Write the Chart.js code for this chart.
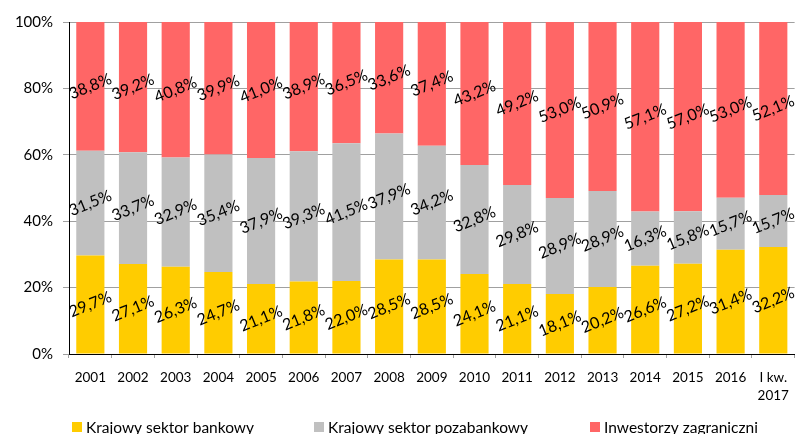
<!DOCTYPE html>
<html>
<head>
<meta charset="utf-8">
<script src="https://cdn.jsdelivr.net/npm/chart.js@4/dist/chart.umd.min.js"></script>
<style>
  html, body { margin: 0; padding: 0; background: #fff; }
  #wrap { width: 800px; height: 434px; position: relative; }
</style>
</head>
<body>
<div id="wrap"><canvas id="chart"></canvas></div>
<script>
// Dane
const years = ['2001', '2002', '2003', '2004', '2005', '2006', '2007', '2008', '2009',
  '2010', '2011', '2012', '2013', '2014', '2015', '2016', ['I kw.', '2017']];
const bankowy = [29.7, 27.1, 26.3, 24.7, 21.1, 21.8, 22.0, 28.5, 28.5,
  24.1, 21.1, 18.1, 20.2, 26.6, 27.2, 31.4, 32.2];
const pozabankowy = [31.5, 33.7, 32.9, 35.4, 37.9, 39.3, 41.5, 37.9, 34.2,
  32.8, 29.8, 28.9, 28.9, 16.3, 15.8, 15.7, 15.7];
const zagraniczni = [38.8, 39.2, 40.8, 39.9, 41.0, 38.9, 36.5, 33.6, 37.4,
  43.2, 49.2, 53.0, 50.9, 57.1, 57.0, 53.0, 52.1];
const seriesNames = ['Krajowy sektor bankowy', 'Krajowy sektor pozabankowy', 'Inwestorzy zagraniczni'];
const colors = ['#FFCC00', '#C0C0C0', '#FF6666'];

const FONT = 'Lato, "Open Sans", sans-serif';
Chart.defaults.font.family = FONT;
Chart.defaults.color = '#000';

// Etykiety danych (obrócone)
const labelPlugin = {
  id: 'rotLabels',
  afterDatasetsDraw(chart) {
    const ctx = chart.ctx;
    ctx.save();
    ctx.font = '16px ' + FONT;
    ctx.fillStyle = '#000';
    ctx.textAlign = 'center';
    ctx.textBaseline = 'middle';
    chart.data.datasets.forEach((ds, i) => {
      const meta = chart.getDatasetMeta(i);
      meta.data.forEach((bar, j) => {
        const y = (bar.y + bar.base) / 2;
        ctx.save();
        ctx.translate(bar.x, y);
        ctx.rotate(-22 * Math.PI / 180);
        ctx.fillText(ds.data[j].toFixed(1).replace('.', ',') + '%', 0, 0);
        ctx.restore();
      });
    });
    ctx.restore();
  }
};

// Legenda na dole
const legendPlugin = {
  id: 'bottomLegend',
  afterDraw(chart) {
    const ctx = chart.ctx;
    const xs = [72, 314, 590];
    ctx.save();
    ctx.font = '15.5px ' + FONT;
    ctx.textBaseline = 'middle';
    ctx.textAlign = 'left';
    chart.data.datasets.forEach((ds, i) => {
      ctx.fillStyle = ds.backgroundColor;
      ctx.fillRect(xs[i], 422, 10, 10);
      ctx.fillStyle = '#000';
      ctx.fillText(ds.label, xs[i] + 14, 428);
    });
    ctx.restore();
  }
};

new Chart(document.getElementById('chart'), {
  type: 'bar',
  data: {
    labels: years,
    datasets: [
      { label: seriesNames[0], data: bankowy, backgroundColor: colors[0] },
      { label: seriesNames[1], data: pozabankowy, backgroundColor: colors[1] },
      { label: seriesNames[2], data: zagraniczni, backgroundColor: colors[2] }
    ]
  },
  options: {
    responsive: true,
    maintainAspectRatio: false,
    animation: false,
    layout: { padding: { top: 22, right: 2, bottom: 30, left: 0 } },
    datasets: { bar: { categoryPercentage: 1, barPercentage: 0.66, borderWidth: 0 } },
    plugins: {
      legend: { display: false },
      tooltip: { enabled: false }
    },
    scales: {
      x: {
        stacked: true,
        grid: { offset: true, drawOnChartArea: false, tickLength: 4, color: '#a0a0a0' },
        border: { color: '#000', width: 1 },
        ticks: { font: { size: 13.5, lineHeight: 1.3 }, padding: 11, maxRotation: 0, autoSkip: false },
        afterFit(s) { s.height = 50; }
      },
      y: {
        stacked: true,
        min: 0,
        max: 100,
        grid: { color: '#a0a0a0', tickLength: 6 },
        border: { color: '#000', width: 1 },
        ticks: { stepSize: 20, font: { size: 15 }, padding: 10, callback: v => v + '%' },
        afterFit(s) { s.width = 69; }
      }
    }
  },
  plugins: [labelPlugin, legendPlugin]
});
</script>
</body>
</html>
